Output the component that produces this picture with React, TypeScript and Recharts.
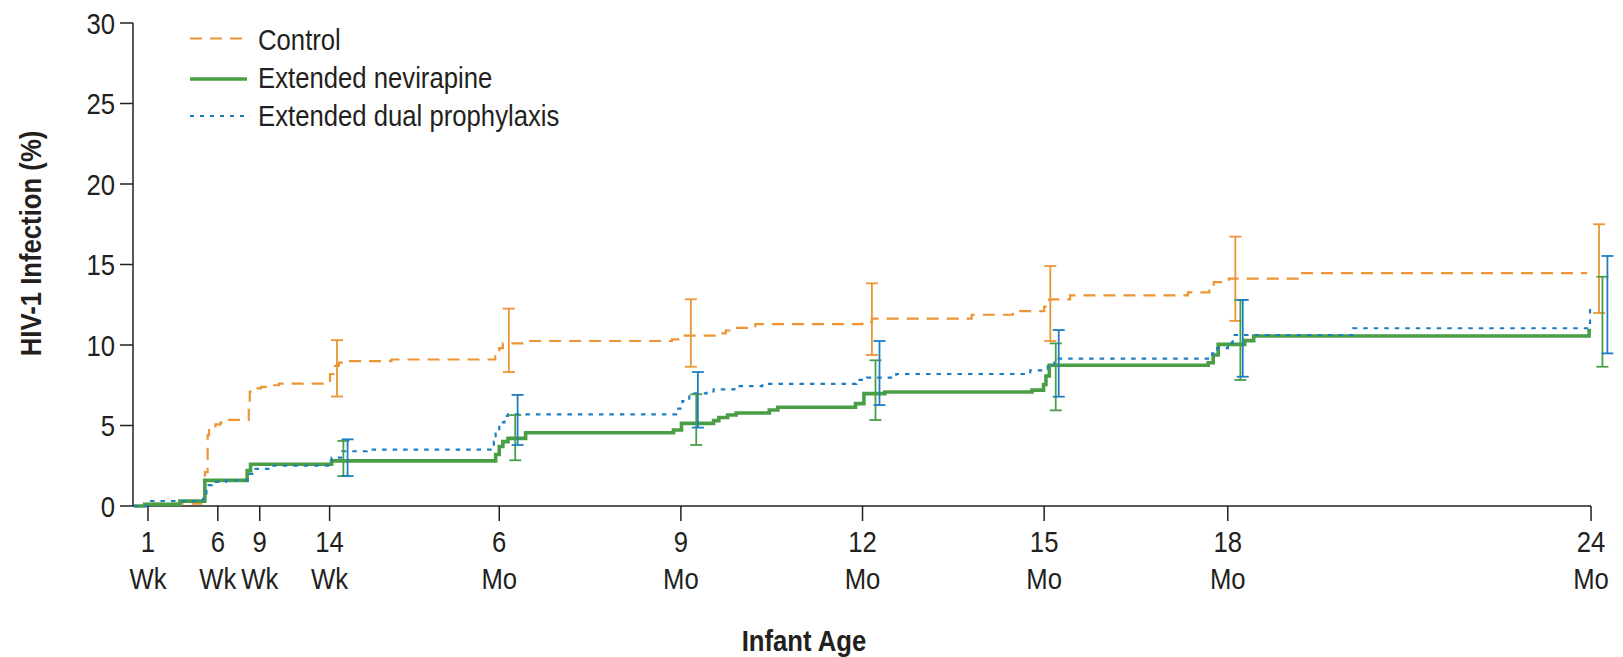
import React from 'react';
import { ComposedChart, Line, Scatter, ErrorBar, XAxis, YAxis, ReferenceLine, Legend } from 'recharts';

const FONT = "'Liberation Sans', Arial, sans-serif";
const SX = 0.857; // narrow face: horizontal squeeze of the glyphs
const TEXT = '#231f20';
const ORANGE = '#EC9535';
const GREEN = '#4A9E45';
const BLUE = '#1F7EC2';

// x-axis landmarks (days of infant age)
const tickDays = [7, 42, 63, 98, 183, 274, 365, 456, 548, 730];
const tickNumbers = ['1', '6', '9', '14', '6', '9', '12', '15', '18', '24'];
const tickUnits = ['Wk', 'Wk', 'Wk', 'Wk', 'Mo', 'Mo', 'Mo', 'Mo', 'Mo', 'Mo'];
const yTicks = [0, 5, 10, 15, 20, 25, 30];

// Kaplan-Meier steps: [day, cumulative % infected]
const controlSteps = [
  [0, 0], [5, 0.15], [33.7, 0.3], [35.5, 2.1], [36.9, 4.4], [37.6, 4.87], [40.8, 5.07], [43.4, 5.2],
  [47, 5.35], [57.5, 6.3], [58, 7.1], [60.2, 7.3], [63.7, 7.4], [69, 7.5], [72.6, 7.6], [98.2, 8.2],
  [100, 8.7], [102.6, 8.9], [106, 9.0], [129, 9.1], [181, 9.4], [183, 9.8], [184.8, 10.1], [194.5, 10.25],
  [269.5, 10.35], [274.7, 10.58], [294, 10.72], [296.5, 10.9], [300, 11.06], [311.3, 11.3], [365, 11.43],
  [369.7, 11.64], [419.7, 11.88], [440.3, 12.1], [456, 12.38], [458.6, 12.84], [469, 13.08], [528, 13.27],
  [538.8, 13.6], [541, 13.9], [548.5, 14.12], [583, 14.47], [728, 14.47],
];
const nevirapineSteps = [
  [0, 0], [5.4, 0.1], [23, 0.3], [35.5, 1.59], [56.7, 2.2], [58.4, 2.59], [99, 2.8], [181.2, 3.2],
  [183, 3.7], [184.8, 4.0], [187.4, 4.2], [196.2, 4.55], [270.3, 4.72], [274.3, 5.13], [290.4, 5.3],
  [293, 5.5], [297.4, 5.65], [301.7, 5.78], [318.3, 5.96], [322.6, 6.13], [361.5, 6.36], [365.7, 6.98],
  [376.2, 7.08], [449.9, 7.2], [455.7, 7.55], [456.9, 8.07], [458.6, 8.74], [538.2, 8.9], [540.7, 9.38],
  [543.2, 10.04], [556.5, 10.27], [561, 10.56], [729, 10.9], [730, 10.9],
];
const dualSteps = [
  [0, 0], [7.2, 0.31], [34.6, 0.45], [36.3, 1.3], [39, 1.5], [46, 1.6], [56.7, 2.0], [60.2, 2.3],
  [67.3, 2.5], [99, 3.0], [104.4, 3.4], [116.7, 3.5], [180.3, 4.0], [181.2, 4.5], [183, 5.2], [185.6, 5.6],
  [187.4, 5.69], [271.6, 6.05], [274.7, 6.52], [278.2, 7.0], [286.9, 7.12], [290.4, 7.25], [300.8, 7.45],
  [314.8, 7.58], [361.9, 7.83], [367.1, 7.97], [381.9, 8.2], [449, 8.43], [457.8, 8.8], [461.2, 9.15],
  [540.2, 9.48], [542.7, 9.8], [548.1, 10.15], [550.5, 10.62], [610.8, 11.04], [729.5, 12.28], [730, 12.28],
];

// 95% CI at landmarks: [day, estimate, lower, upper]
const controlCI = [
  [101.7, 9.0, 6.8, 10.3], [187.8, 10.1, 8.32, 12.26], [279, 10.58, 8.65, 12.84], [369.7, 11.64, 9.38, 13.83],
  [459.1, 12.84, 10.25, 14.9], [551.8, 14.12, 11.5, 16.73], [734, 14.47, 11.99, 17.5],
];
const nevirapineCI = [
  [104.9, 2.8, 1.86, 4.04], [191, 4.2, 2.84, 5.65], [281.7, 5.13, 3.79, 6.94], [371.5, 6.98, 5.34, 9.05],
  [461.8, 8.74, 5.94, 10.1], [554.3, 10.27, 7.83, 12.8], [735.7, 10.9, 8.65, 14.24],
];
const dualCI = [
  [107, 3.4, 1.86, 4.14], [192.2, 5.69, 3.79, 6.9], [282.5, 7.0, 4.87, 8.32], [373.5, 7.97, 6.27, 10.25],
  [463.3, 9.15, 6.79, 10.93], [555.5, 10.62, 8.03, 12.8], [738.2, 12.28, 9.48, 15.53],
];

const toPoints = (steps: number[][]) => steps.map(([x, y]) => ({ x, y }));
const toCI = (rows: number[][]) => rows.map(([x, y, lo, hi]) => ({ x, y, err: [y - lo, hi - y] }));

type NTProps = {
  x: number; y: number; anchor?: 'start' | 'middle' | 'end'; bold?: boolean; size?: number;
  rotate?: number; children: React.ReactNode;
};
const NarrowText = ({ x, y, anchor = 'start', bold = false, size = 30, rotate = 0, children }: NTProps) => (
  <text
    transform={`translate(${x} ${y}) rotate(${rotate}) scale(${SX} 1)`}
    x={0}
    y={0}
    textAnchor={anchor}
    fontSize={size}
    fontWeight={bold ? 'bold' : 'normal'}
    fontFamily={FONT}
    fill={TEXT}
  >
    {children}
  </text>
);

const XTick = (props: any) => {
  const { x, y, payload } = props;
  const i = tickDays.indexOf(payload.value);
  return (
    <g>
      <NarrowText x={x} y={y + 29} anchor="middle">{tickNumbers[i]}</NarrowText>
      <NarrowText x={x} y={y + 66} anchor="middle">{tickUnits[i]}</NarrowText>
    </g>
  );
};

const YTick = (props: any) => {
  const { x, y, payload } = props;
  return <NarrowText x={x} y={y + 10.7} anchor="end">{String(payload.value)}</NarrowText>;
};

const renderLegend = () => (
  <svg width={700} height={140} style={{ display: 'block' }}>
    <line x1={190} x2={247} y1={38.5} y2={38.5} stroke={ORANGE} strokeWidth={2.2} strokeDasharray="12 8" />
    <NarrowText x={258} y={49.5}>Control</NarrowText>
    <line x1={190} x2={247} y1={79} y2={79} stroke={GREEN} strokeWidth={3.6} />
    <NarrowText x={258} y={88}>Extended nevirapine</NarrowText>
    <line x1={190} x2={247} y1={116} y2={116} stroke={BLUE} strokeWidth={2} strokeDasharray="4 6" />
    <NarrowText x={258} y={126}>Extended dual prophylaxis</NarrowText>
  </svg>
);

const noShape = () => <g />;

export default function App() {
  return (
    <div style={{ width: 1623, height: 657, position: 'relative', margin: '-8px 0 0 -8px' }}>
      <ComposedChart width={1623} height={657} margin={{ top: 23, right: 12, bottom: 0, left: 0 }}>
        <XAxis
          dataKey="x"
          type="number"
          domain={[-0.5, 740]}
          ticks={tickDays}
          interval={0}
          axisLine={false}
          tickLine={{ stroke: TEXT, strokeWidth: 1.5 }}
          tickSize={15}
          tickMargin={2}
          height={151}
          tick={<XTick />}
          label={{
            content: () => (
              <NarrowText x={804} y={651} anchor="middle" bold>Infant Age</NarrowText>
            ),
          }}
        />
        <YAxis
          type="number"
          domain={[0, 30]}
          ticks={yTicks}
          interval={0}
          width={133}
          axisLine={{ stroke: TEXT, strokeWidth: 1.5 }}
          tickLine={{ stroke: TEXT, strokeWidth: 1.5 }}
          tickSize={13}
          tickMargin={5}
          tick={<YTick />}
          label={{
            content: () => (
              <NarrowText x={41} y={243.5} anchor="middle" bold rotate={-90}>HIV-1 Infection (%)</NarrowText>
            ),
          }}
        />
        <ReferenceLine segment={[{ x: -0.5, y: 0 }, { x: 730, y: 0 }]} stroke={TEXT} strokeWidth={1.5} />
        <Legend layout="vertical" align="center" verticalAlign="middle" content={renderLegend}
          wrapperStyle={{ position: 'absolute', left: 0, top: 0, width: 700, height: 140 }} />
        <Line data={toPoints(controlSteps)} dataKey="y" type="stepAfter" stroke={ORANGE} strokeWidth={2.2}
          strokeDasharray="12 8" dot={false} activeDot={false} isAnimationActive={false} name="Control" />
        <Line data={toPoints(nevirapineSteps)} dataKey="y" type="stepAfter" stroke={GREEN} strokeWidth={3.6}
          dot={false} activeDot={false} isAnimationActive={false} name="Extended nevirapine" />
        <Line data={toPoints(dualSteps)} dataKey="y" type="stepAfter" stroke={BLUE} strokeWidth={2.2}
          strokeDasharray="4.5 6" dot={false} activeDot={false} isAnimationActive={false} name="Extended dual prophylaxis" />
        <Scatter data={toCI(controlCI)} dataKey="y" shape={noShape} isAnimationActive={false} legendType="none">
          <ErrorBar dataKey="err" direction="y" width={6} stroke={ORANGE} strokeWidth={1.8} isAnimationActive={false} />
        </Scatter>
        <Scatter data={toCI(nevirapineCI)} dataKey="y" shape={noShape} isAnimationActive={false} legendType="none">
          <ErrorBar dataKey="err" direction="y" width={6} stroke={GREEN} strokeWidth={1.8} isAnimationActive={false} />
        </Scatter>
        <Scatter data={toCI(dualCI)} dataKey="y" shape={noShape} isAnimationActive={false} legendType="none">
          <ErrorBar dataKey="err" direction="y" width={6} stroke={BLUE} strokeWidth={1.8} isAnimationActive={false} />
        </Scatter>
      </ComposedChart>
    </div>
  );
}
